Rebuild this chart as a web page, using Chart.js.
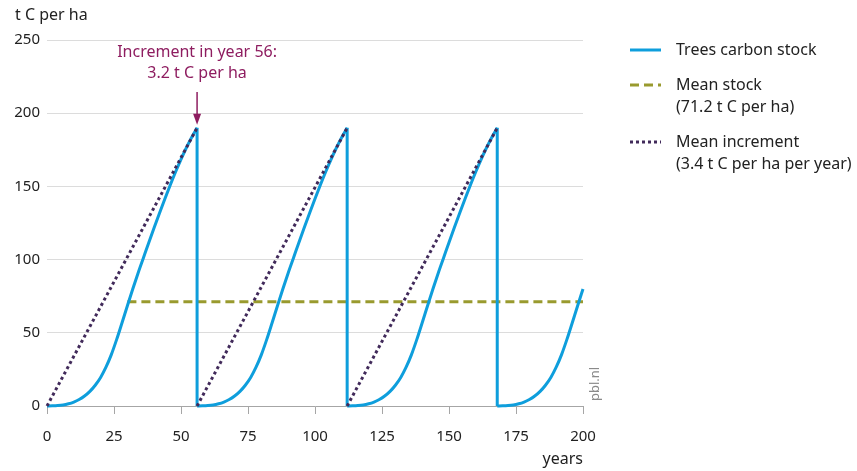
<!DOCTYPE html>
<html>
<head>
<meta charset="utf-8">
<script src="https://cdn.jsdelivr.net/npm/chart.js@4/dist/chart.umd.min.js"></script>
<style>
  html, body { margin: 0; padding: 0; background: #fff; }
  #wrap { width: 857px; height: 471px; position: relative; }
</style>
</head>
<body>
<div id="wrap"><canvas id="myChart"></canvas></div>
<script>
// one rotation of the stand (age in years, t C per ha)
const rotationAge = [0, 2, 4, 6, 8, 10, 12, 14, 16, 18, 20, 22, 24, 26, 28,
  30, 32, 34, 36, 38, 40, 42, 44, 46, 48, 50, 52, 54, 56];
const rotationStock = [0, 0.1, 0.3, 0.7, 1.5, 2.7, 4.4, 6.8, 10, 14.2, 19.5, 26.5, 35.1, 45.5, 56.9,
  68.5, 79.9, 90.9, 101.3, 111.7, 121.9, 131.9, 141.6, 151, 160, 168.5, 176.4, 183.6, 190];
const rotationStarts = [0, 56, 112, 168];
const lastYear = 200;

const meanStock = 71.2;
const meanStockFrom = 30;

const xTicks = [0, 25, 50, 75, 100, 125, 150, 175, 200];
const yTicks = [0, 50, 100, 150, 200, 250];

const legendItems = [
  { lines: ["Trees carbon stock"], style: "solid" },
  { lines: ["Mean stock", "(71.2 t C per ha)"], style: "dash" },
  { lines: ["Mean increment", "(3.4 t C per ha per year)"], style: "dot" },
];

const BLUE = "#0e9edc";
const OLIVE = "#999a2e";
const PURPLE = "#412a5a";
const MAGENTA = "#8e1d60";
const FONT = "'Noto Sans', sans-serif";

// build datasets
const datasets = [];
rotationStarts.forEach((start) => {
  const pts = [];
  rotationAge.forEach((age, i) => {
    if (start + age <= lastYear) pts.push({ x: start + age, y: rotationStock[i] });
  });
  datasets.push({
    data: pts,
    borderColor: BLUE,
    borderWidth: 3,
    cubicInterpolationMode: "monotone",
    pointRadius: 0,
    clip: 6,
    order: 2,
  });
});

// harvest drops
const peak = rotationStock[rotationStock.length - 1];
const drops = [];
rotationStarts.slice(1).forEach((h) => {
  drops.push({ x: h, y: peak }, { x: h, y: 0 }, { x: h, y: null });
});
datasets.push({
  data: drops,
  borderColor: BLUE,
  borderWidth: 3,
  pointRadius: 0,
  spanGaps: false,
  clip: 6,
  order: 2,
});

// mean increment
const inc = [];
rotationStarts.slice(0, -1).forEach((s, i) => {
  const end = rotationStarts[i + 1];
  inc.push({ x: s, y: 0 }, { x: end, y: peak }, { x: end, y: null });
});
datasets.push({
  data: inc,
  borderColor: PURPLE,
  borderWidth: 3,
  borderDash: [3, 3],
  pointRadius: 0,
  spanGaps: false,
  clip: 6,
  order: 1,
});

// mean stock
datasets.push({
  data: [{ x: meanStockFrom, y: meanStock }, { x: lastYear, y: meanStock }],
  borderColor: OLIVE,
  borderWidth: 3,
  borderDash: [9, 5],
  pointRadius: 0,
  clip: 6,
  order: 3,
});

const extras = {
  id: "extras",
  afterDraw(chart) {
    const ctx = chart.ctx;
    const xs = chart.scales.x, ys = chart.scales.y;
    ctx.save();

    // axis titles
    ctx.fillStyle = "#222";
    ctx.font = "16px " + FONT;
    ctx.textBaseline = "middle";
    ctx.textAlign = "left";
    ctx.fillText("t C per ha", 15, 15);
    ctx.textAlign = "right";
    ctx.fillText("years", xs.right, 459);

    // annotation
    const ax = xs.getPixelForValue(56);
    ctx.fillStyle = MAGENTA;
    ctx.textAlign = "center";
    ctx.fillText("Increment in year 56:", ax, 52);
    ctx.fillText("3.2 t C per ha", ax, 73);
    const tipY = ys.getPixelForValue(peak) - 3;
    ctx.strokeStyle = MAGENTA;
    ctx.lineWidth = 1.5;
    ctx.beginPath();
    ctx.moveTo(ax, 92);
    ctx.lineTo(ax, tipY - 8);
    ctx.stroke();
    ctx.beginPath();
    ctx.moveTo(ax - 4, tipY - 11);
    ctx.lineTo(ax + 4, tipY - 11);
    ctx.lineTo(ax, tipY);
    ctx.closePath();
    ctx.fill();

    // watermark
    ctx.save();
    ctx.translate(595, 384);
    ctx.rotate(-Math.PI / 2);
    ctx.fillStyle = "#8a8a8a";
    ctx.font = "13px " + FONT;
    ctx.textAlign = "center";
    ctx.fillText("pbl.nl", 0, 0);
    ctx.restore();

    // legend
    let y = 50;
    legendItems.forEach((item) => {
      ctx.lineWidth = 3;
      ctx.beginPath();
      if (item.style === "solid") { ctx.strokeStyle = BLUE; ctx.setLineDash([]); }
      if (item.style === "dash") { ctx.strokeStyle = OLIVE; ctx.setLineDash([9, 5]); }
      if (item.style === "dot") { ctx.strokeStyle = PURPLE; ctx.setLineDash([3, 3]); }
      ctx.moveTo(630, y);
      ctx.lineTo(661, y);
      ctx.stroke();
      ctx.setLineDash([]);
      ctx.fillStyle = "#222";
      ctx.font = "16px " + FONT;
      ctx.textAlign = "left";
      item.lines.forEach((t, i) => ctx.fillText(t, 676, y + i * 22));
      y += 35 + (item.lines.length - 1) * 22;
    });

    ctx.restore();
  },
};

const config = {
  type: "line",
  data: { datasets: datasets },
  options: {
    responsive: true,
    maintainAspectRatio: false,
    animation: false,
    layout: { padding: { top: 40, right: 274, left: 0, bottom: 0 } },
    plugins: { legend: { display: false }, tooltip: { enabled: false } },
    scales: {
      x: {
        type: "linear",
        min: 0,
        max: 200,
        afterFit: (s) => { s.height = 65; },
        afterBuildTicks: (s) => { s.ticks = xTicks.map((v) => ({ value: v })); },
        grid: { drawOnChartArea: false, drawTicks: true, tickLength: 8, color: "#a6a6a6" },
        border: { color: "#a6a6a6", width: 1 },
        ticks: { color: "#222", font: { family: FONT, size: 15 }, padding: 14, maxRotation: 0 },
      },
      y: {
        min: 0,
        max: 250,
        afterFit: (s) => { s.width = 47; },
        afterBuildTicks: (s) => { s.ticks = yTicks.map((v) => ({ value: v })); },
        grid: { drawTicks: false, color: "#dcdcdc" },
        border: { display: false },
        ticks: { color: "#222", font: { family: FONT, size: 15 }, padding: 7 },
      },
    },
  },
  plugins: [extras],
};

Chart.defaults.font.family = FONT;
const myChart = new Chart(document.getElementById("myChart"), config);
</script>
</body>
</html>
